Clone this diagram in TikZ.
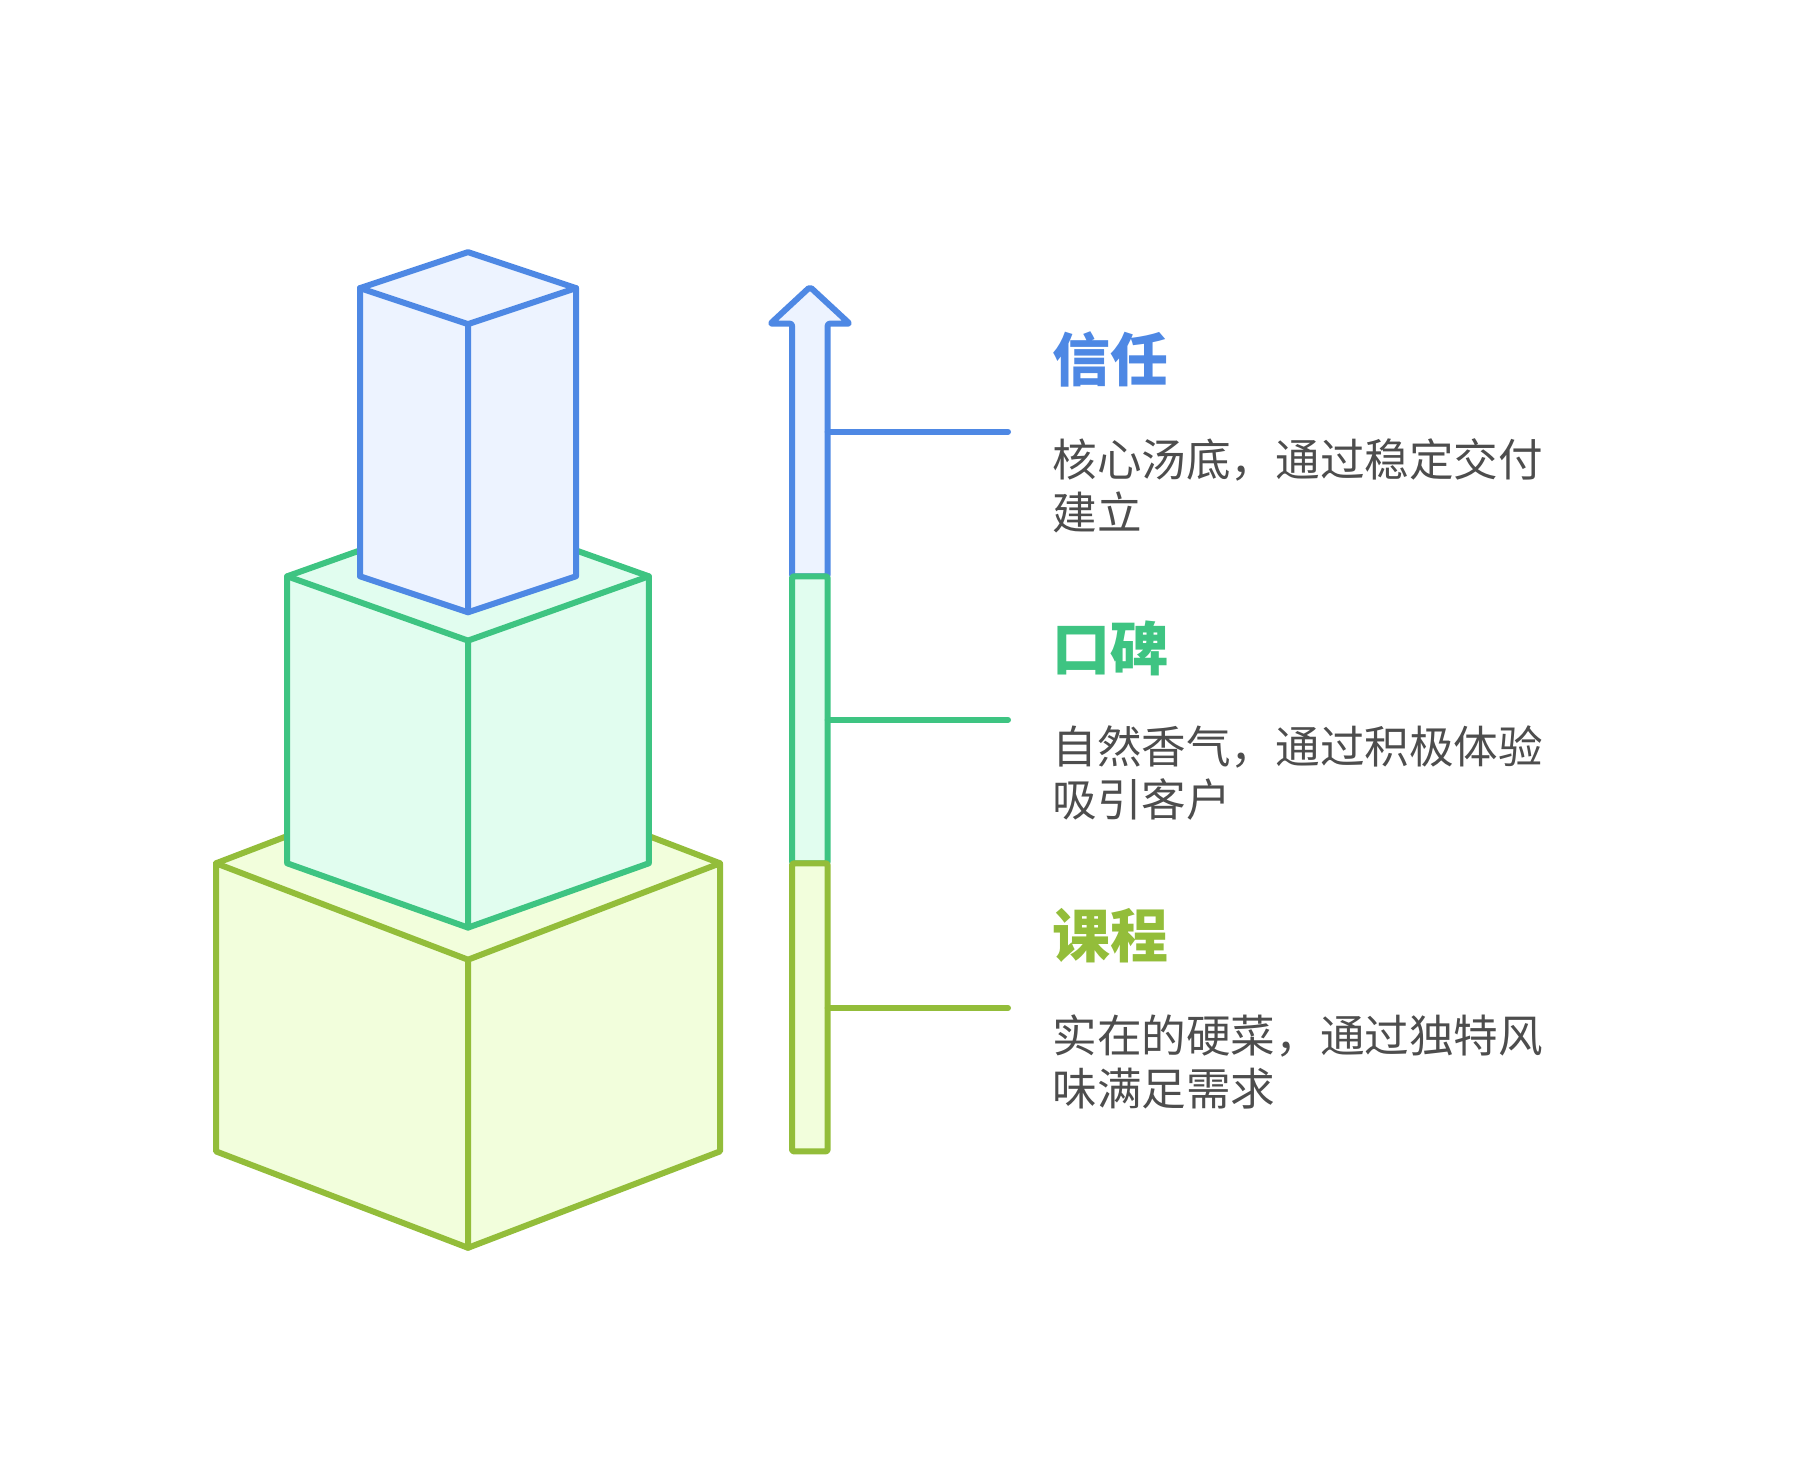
\documentclass[tikz,border=0pt]{standalone}
\usepackage{fontspec}
\setmainfont{Noto Sans CJK SC}
\usepackage{tikz}
\usetikzlibrary{positioning}
\definecolor{lvla}     {HTML}{4E88E4}
\definecolor{lvlb}     {HTML}{3EC482}
\definecolor{lvlc}     {HTML}{93BD3A}
\definecolor{lvlafill} {HTML}{EDF3FF}
\definecolor{lvlbfill} {HTML}{E1FDEF}
\definecolor{lvlcfill} {HTML}{F2FEDC}
\definecolor{inktext}  {HTML}{4D4D4D}
\tikzset{
  % --- shapes
  box/.style   = {line width=3pt, line join=round, line cap=round},
  bar/.style   = {line width=3pt, line join=round, rounded corners=1pt},
  lead/.style  = {line width=3pt, line cap=round},
  % --- texts
  ttl/.style   = {anchor=west, inner sep=0pt, font=\fontsize{29}{34}\selectfont\bfseries},
  dsc/.style   = {anchor=west, inner sep=0pt, align=left, text=inktext,
                  font=\fontsize{22.3}{26.5}\selectfont},
}
\begin{document}
\begin{tikzpicture}[x=0.5pt,y=-0.5pt]
  \useasboundingbox (0,0) rectangle (1800,1476);
  % stacked boxes, bottom first
  \foreach \lvl/\hw/\yt/\dy/\yb in {lvlc/252/863.3/96.4/1151.4,
                                    lvlb/180.8/576.3/64.3/863.3,
                                    lvla/108/288.1/36/576.3} {
    \filldraw[box, draw=\lvl, fill=\lvl fill]
      ({468-\hw},\yt) -- (468,{\yt-\dy}) -- ({468+\hw},\yt) -- ({468+\hw},\yb)
      -- (468,{\yb+\dy}) -- ({468-\hw},\yb) -- cycle;
    \draw[box, draw=\lvl] ({468-\hw},\yt) -- (468,{\yt+\dy}) -- ({468+\hw},\yt)
      (468,{\yt+\dy}) -- (468,{\yb+\dy});
  }
  % rising bar
  \coordinate (tip) at (810,287);
  \filldraw[bar, draw=lvla, fill=lvlafill] (792,576.3) -- (792,323.7) -- (770.4,323.7)
    -- (tip) -- (849.6,323.7) -- (827.7,323.7) -- (827.7,576.3) -- cycle;
  \filldraw[bar, draw=lvlb, fill=lvlbfill] (792,576.3) rectangle (827.7,863.3);
  \filldraw[bar, draw=lvlc, fill=lvlcfill] (792,863.3) rectangle (827.7,1151.4);
  % leaders
  \coordinate (bara) at (827.7,431.6);  \coordinate (enda) at (1008,431.6);
  \coordinate (barb) at (827.7,719.8);  \coordinate (endb) at (1008,719.8);
  \coordinate (barc) at (827.7,1008);   \coordinate (endc) at (1008,1008);
  \draw[lead, draw=lvla] (bara) -- (enda);
  \draw[lead, draw=lvlb] (barb) -- (endb);
  \draw[lead, draw=lvlc] (barc) -- (endc);
  % labels
  \node[ttl, text=lvla] (ttla) at (1052,359)   {信任};
  \node[dsc]            (dsca) at (1052,485.5) {核心汤底，通过稳定交付\\建立};
  \node[ttl, text=lvlb] (ttlb) at (1052,648.6) {口碑};
  \node[dsc]            (dscb) at (1052,773.5) {自然香气，通过积极体验\\吸引客户};
  \node[ttl, text=lvlc] (ttlc) at (1052,935.6) {课程};
  \node[dsc]            (dscc) at (1052,1061.8) {实在的硬菜，通过独特风\\味满足需求};
\end{tikzpicture}
\end{document}
